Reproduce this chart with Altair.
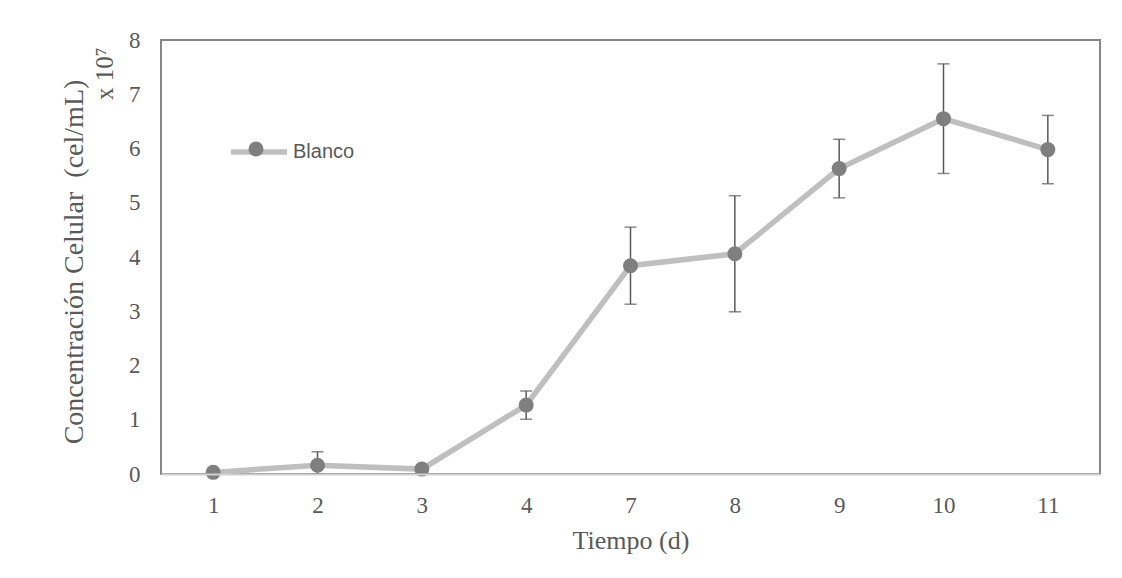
import altair as alt
import pandas as pd

days = ["1", "2", "3", "4", "7", "8", "9", "10", "11"]
mean = [0.03, 0.16, 0.09, 1.27, 3.84, 4.06, 5.63, 6.55, 5.98]
err_up = [0.0, 0.25, 0.0, 0.26, 0.71, 1.07, 0.54, 1.01, 0.63]
err_down = [0.0, 0.16, 0.0, 0.26, 0.71, 1.07, 0.54, 1.01, 0.63]
serie = "Blanco"

df = pd.DataFrame({
    "dia": days,
    "media": mean,
    "lo": [m - e for m, e in zip(mean, err_down)],
    "hi": [m + e for m, e in zip(mean, err_up)],
    "serie": [serie] * len(days),
})

SERIF = "Liberation Serif"
GREY = "#595959"

xenc = alt.X("dia:N", sort=days, scale=alt.Scale(type="point", padding=0.5),
             axis=alt.Axis(title="Tiempo (d)", labelAngle=0, labelFont=SERIF,
                           labelFontSize=23, labelColor=GREY, labelPadding=20,
                           ticks=False, domainColor="#d0d0d0", domainWidth=2,
                           titleFont=SERIF, titleFontSize=26, titleFontWeight="normal",
                           titleColor=GREY, titlePadding=10, zindex=1))
yscale = alt.Scale(domain=[0, 8], nice=False)
yaxis = alt.Axis(title="x 10⁷", values=list(range(0, 9)), grid=False, ticks=False,
                 domain=False, labelFont=SERIF, labelFontSize=23, labelColor=GREY,
                 labelPadding=21, titleFont=SERIF, titleFontSize=25,
                 titleFontWeight="normal", titleColor=GREY, titleAngle=270,
                 titleX=-44, titleY=7, titleAlign="right", titleBaseline="bottom")

base = alt.Chart(df)

rules = base.mark_rule(color="#595959", strokeWidth=1.5).encode(
    x=xenc, y=alt.Y("lo:Q", scale=yscale, axis=yaxis), y2="hi:Q")
cap_lo = base.mark_tick(color="#595959", size=12, thickness=1.5).encode(
    x=xenc, y=alt.Y("lo:Q", scale=yscale))
cap_hi = base.mark_tick(color="#595959", size=12, thickness=1.5).encode(
    x=xenc, y=alt.Y("hi:Q", scale=yscale))

line = base.mark_line(strokeWidth=5.5).encode(
    x=xenc, y=alt.Y("media:Q", scale=yscale),
    color=alt.Color("serie:N", scale=alt.Scale(range=["#bfbfbf"]),
                    legend=alt.Legend(title=None, orient="none", legendX=67, legendY=81,
                                      symbolType="stroke", symbolSize=3136,
                                      symbolStrokeWidth=5.5, labelFont="Liberation Sans",
                                      labelFontSize=20, labelColor=GREY, labelOffset=3,
                                      padding=0)))
points = base.mark_circle(size=225, opacity=1).encode(
    x=xenc, y=alt.Y("media:Q", scale=yscale),
    fill=alt.Fill("serie:N", scale=alt.Scale(range=["#7f7f7f"]),
                  legend=alt.Legend(title=None, orient="none", legendX=87.5, legendY=101.5,
                                    symbolType="circle", symbolSize=225,
                                    symbolStrokeWidth=0, labelExpr="''",
                                    labelFontSize=1, padding=0)))

chart = alt.layer(rules, cap_lo, cap_hi, line, points).properties(
    width=939, height=434,
    padding={"left": 153, "top": 32, "right": 14, "bottom": 80},
    autosize=alt.AutoSizeParams(type="none"),
    background="white",
    title=alt.TitleParams(text="Concentración Celular\u00a0 (cel/mL)", orient="left",
                          anchor="middle", frame="group", font=SERIF, fontSize=28,
                          fontWeight="normal", color=GREY, offset=3, dx=-5),
).configure_view(stroke="#878787", strokeWidth=2)

chart.save("out.html", embed_options={"renderer": "svg", "actions": False})
